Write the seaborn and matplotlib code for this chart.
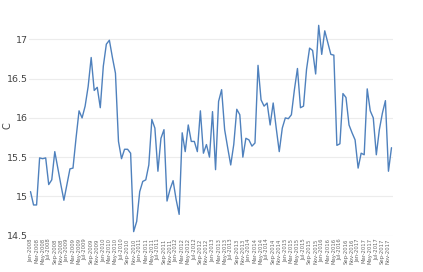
import matplotlib
matplotlib.use("Agg")
import matplotlib.pyplot as plt
import seaborn as sns
import pandas as pd
import numpy as np

months = pd.date_range("2008-01-01", periods=120, freq="MS")
temps = [
    15.06, 14.89, 14.89, 15.49, 15.48, 15.49, 15.15, 15.21, 15.57, 15.36,
    15.15, 14.95, 15.15, 15.35, 15.36, 15.74, 16.09, 16.00, 16.15, 16.40,
    16.77, 16.35, 16.39, 16.13, 16.66, 16.94, 16.99, 16.77, 16.57, 15.70,
    15.48, 15.60, 15.60, 15.55, 14.55, 14.68, 15.06, 15.19, 15.21, 15.40,
    15.98, 15.87, 15.32, 15.74, 15.85, 14.94, 15.09, 15.20, 14.96, 14.77,
    15.81, 15.57, 15.91, 15.70, 15.70, 15.57, 16.09, 15.55, 15.66, 15.50,
    16.08, 15.34, 16.21, 16.36, 15.85, 15.62, 15.40, 15.66, 16.11, 16.04,
    15.50, 15.74, 15.72, 15.64, 15.68, 16.67, 16.23, 16.15, 16.19, 15.91,
    16.19, 15.87, 15.57, 15.87, 16.00, 15.99, 16.04, 16.36, 16.63, 16.13,
    16.15, 16.62, 16.89, 16.86, 16.56, 17.18, 16.81, 17.11, 16.96, 16.81,
    16.80, 15.65, 15.67, 16.31, 16.26, 15.91, 15.81, 15.72, 15.36, 15.55,
    15.53, 16.37, 16.09, 16.00, 15.53, 15.85, 16.06, 16.22, 15.32, 15.62,
]
yticks = [14.5, 15, 15.5, 16, 16.5, 17]
ytick_labels = ["14.5", "15", "15.5", "16", "16.5", "17"]

labels = [d.strftime("%b-%Y") for d in months]
df = pd.DataFrame({"idx": np.arange(len(months)), "temp": temps})

sns.set_style("white")
fig = plt.figure(figsize=(4.23, 2.72), dpi=100)
ax = fig.add_axes([29 / 423, 0.134, (393 - 29) / 423, 0.927 - 0.134])

sns.lineplot(data=df, x="idx", y="temp", ax=ax, color="#4f81bd", linewidth=1.0)
ax.lines[0].set_clip_on(False)

ax.set_xlim(-0.5, len(months) - 0.5)
ax.set_ylim(14.5, 17.25)
ax.set_yticks(yticks)
ax.set_yticklabels(ytick_labels, fontsize=6.8, color="#444444")
tick_pos = list(range(0, len(months), 2))
ax.set_xticks(tick_pos)
ax.set_xticklabels([labels[i] for i in tick_pos], rotation=90, fontsize=3.8, color="#666666")
ax.tick_params(axis="y", length=0, pad=0.5)
ax.tick_params(axis="x", length=0, pad=2)
ax.grid(axis="y", color="#ececec", linewidth=0.8)
ax.set_axisbelow(True)
for s in ax.spines.values():
    s.set_visible(False)
ax.set_xlabel("")
ax.set_ylabel("C", fontsize=7, color="#444444")
ax.yaxis.set_label_coords(-0.045, 0.51)

fig.savefig("out.png", dpi=100)
